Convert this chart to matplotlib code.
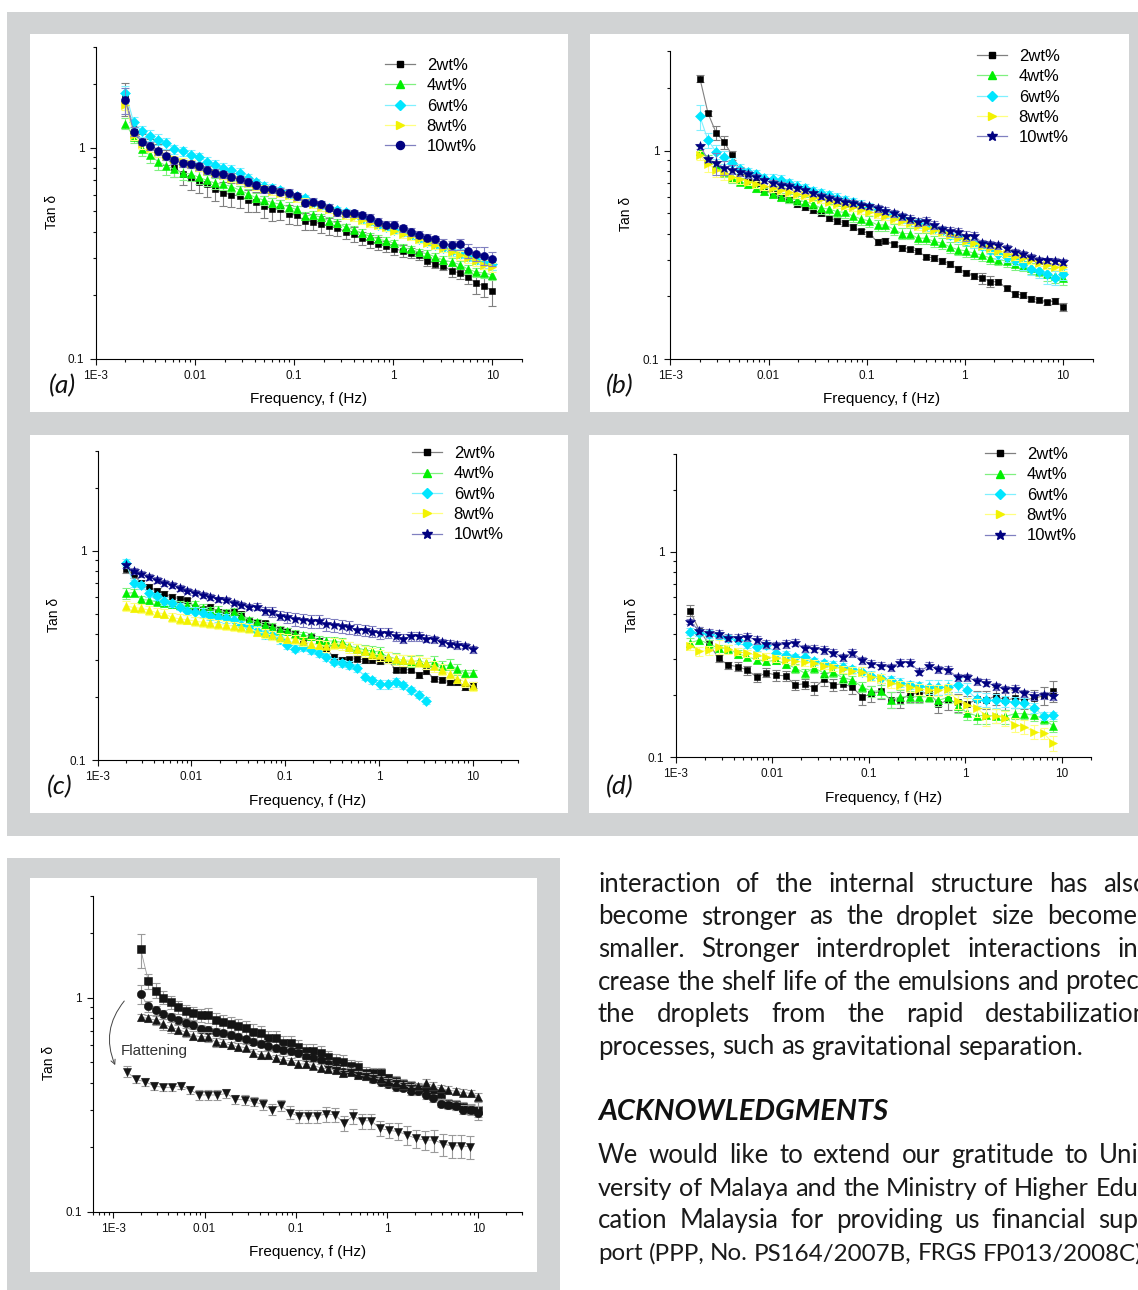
import numpy as np
import matplotlib
matplotlib.use('Agg')
import matplotlib.pyplot as plt
from matplotlib.patches import Rectangle
from matplotlib.lines import Line2D
from matplotlib.ticker import LogLocator, FuncFormatter, NullFormatter

plt.rcParams['font.family'] = ['Liberation Sans', 'DejaVu Sans']

W, H = 1138, 1290
GRAY = '#d1d3d4'

# measurement frequencies (Hz)
freq46 = [0.00200, 0.00242, 0.00292, 0.00353, 0.00427, 0.00516, 0.00623, 0.00752, 0.00909, 0.0110,
          0.0133, 0.0160, 0.0194, 0.0234, 0.0283, 0.0342, 0.0413, 0.0499, 0.0603, 0.0729,
          0.0881, 0.106, 0.129, 0.155, 0.188, 0.227, 0.274, 0.331, 0.400, 0.484,
          0.585, 0.706, 0.853, 1.03, 1.25, 1.51, 1.82, 2.20, 2.66, 3.21,
          3.88, 4.69, 5.67, 6.85, 8.28, 10.0]
freq39 = [0.00141, 0.00177, 0.00223, 0.00280, 0.00352, 0.00442, 0.00555, 0.00697, 0.00875, 0.0110,
          0.0138, 0.0173, 0.0218, 0.0274, 0.0344, 0.0432, 0.0542, 0.0681, 0.0855, 0.107,
          0.135, 0.169, 0.213, 0.267, 0.336, 0.422, 0.530, 0.665, 0.836, 1.05,
          1.32, 1.66, 2.08, 2.61, 3.28, 4.12, 5.18, 6.50, 8.17]

labels = ['2wt%', '4wt%', '6wt%', '8wt%', '10wt%']

# panel (a): tan delta
a_2 = [1.72, 1.22, 1.09, 1.04, 0.97, 0.90, 0.81, 0.75, 0.72, 0.69,
       0.67, 0.64, 0.61, 0.60, 0.59, 0.565, 0.556, 0.53, 0.514, 0.51,
       0.485, 0.48, 0.45, 0.447, 0.435, 0.425, 0.416, 0.401, 0.39, 0.373,
       0.36, 0.352, 0.342, 0.332, 0.325, 0.318, 0.309, 0.291, 0.283, 0.277,
       0.26, 0.256, 0.245, 0.228, 0.222, 0.209]
a_4 = [1.30, 1.12, 0.99, 0.92, 0.86, 0.82, 0.79, 0.76, 0.75, 0.725,
       0.70, 0.68, 0.67, 0.655, 0.63, 0.605, 0.58, 0.565, 0.55, 0.54,
       0.525, 0.51, 0.475, 0.48, 0.468, 0.45, 0.44, 0.42, 0.41, 0.395,
       0.38, 0.37, 0.362, 0.353, 0.337, 0.33, 0.32, 0.315, 0.304, 0.294,
       0.288, 0.28, 0.266, 0.258, 0.255, 0.25]
a_6 = [1.82, 1.32, 1.20, 1.14, 1.09, 1.05, 0.985, 0.96, 0.925, 0.90,
       0.86, 0.83, 0.805, 0.785, 0.76, 0.72, 0.685, 0.66, 0.645, 0.63,
       0.605, 0.59, 0.575, 0.55, 0.535, 0.52, 0.505, 0.495, 0.485, 0.46,
       0.448, 0.432, 0.42, 0.41, 0.398, 0.385, 0.37, 0.358, 0.347, 0.335,
       0.325, 0.315, 0.305, 0.295, 0.288, 0.282]
a_8 = [1.60, 1.15, 1.04, 1.0, 0.95, 0.91, 0.88, 0.86, 0.84, 0.81,
       0.78, 0.76, 0.74, 0.72, 0.70, 0.68, 0.66, 0.64, 0.625, 0.61,
       0.595, 0.575, 0.555, 0.54, 0.525, 0.51, 0.495, 0.48, 0.47, 0.455,
       0.44, 0.43, 0.42, 0.405, 0.39, 0.38, 0.37, 0.355, 0.345, 0.335,
       0.32, 0.31, 0.30, 0.29, 0.28, 0.272]
a_10 = [1.68, 1.19, 1.07, 1.02, 0.96, 0.91, 0.87, 0.845, 0.835, 0.815,
        0.785, 0.76, 0.75, 0.73, 0.71, 0.69, 0.665, 0.635, 0.635, 0.62,
        0.61, 0.59, 0.55, 0.555, 0.54, 0.52, 0.495, 0.49, 0.49, 0.478,
        0.465, 0.445, 0.432, 0.432, 0.415, 0.40, 0.388, 0.375, 0.368, 0.352,
        0.345, 0.35, 0.325, 0.315, 0.308, 0.298]
# error bars, percent of value
e_a2 = [18, 8, 6, 6, 7, 8, 10, 11, 12, 12, 13, 13, 13, 13, 12, 12, 11, 12, 12, 11,
        10, 10, 9, 9, 9, 9, 8, 8, 8, 7, 7, 7, 6, 6, 6, 5, 5, 5, 5, 5, 6, 7, 8, 11, 11, 15]
e_a4 = [6, 6, 8, 8, 9, 9, 8, 7, 7, 7, 6, 6, 6, 6, 5, 5, 5, 5, 5, 5,
        5, 4, 4, 4, 4, 4, 4, 4, 4, 4, 4, 4, 4, 4, 4, 4, 4, 4, 4, 4, 4, 4, 5, 5, 5, 5]
e_a6 = [8, 6, 6, 6, 6, 6, 5, 5, 5, 5, 5, 5, 5, 5, 5, 4, 4, 4, 4, 4,
        4, 4, 4, 4, 4, 4, 4, 4, 4, 4, 4, 4, 4, 4, 4, 4, 4, 4, 4, 4, 5, 5, 5, 5, 6, 6]
e_a8 = [6, 5, 5, 5, 5, 4, 4, 4, 4, 4, 4, 4, 4, 4, 4, 4, 4, 4, 4, 4,
        4, 4, 4, 4, 4, 4, 4, 4, 4, 4, 4, 4, 4, 4, 4, 4, 4, 4, 4, 4, 5, 5, 5, 5, 5, 5]
e_a10 = [14, 5, 4, 4, 4, 4, 4, 4, 4, 4, 4, 4, 4, 4, 4, 4, 4, 4, 4, 4,
         4, 4, 4, 4, 4, 4, 4, 4, 4, 4, 4, 4, 4, 4, 4, 4, 4, 4, 4, 5, 5, 6, 8, 8, 10, 8]

# panel (b)
b_2 = [2.22, 1.51, 1.22, 1.10, 0.95, 0.80, 0.74, 0.70, 0.655, 0.62,
       0.595, 0.58, 0.555, 0.535, 0.52, 0.50, 0.475, 0.46, 0.45, 0.43,
       0.41, 0.40, 0.365, 0.37, 0.355, 0.342, 0.336, 0.33, 0.31, 0.305,
       0.295, 0.286, 0.27, 0.26, 0.25, 0.245, 0.235, 0.235, 0.218, 0.205,
       0.203, 0.195, 0.193, 0.187, 0.19, 0.178]
b_4 = [1.0, 0.91, 0.85, 0.79, 0.74, 0.71, 0.69, 0.66, 0.64, 0.62,
       0.60, 0.59, 0.58, 0.57, 0.555, 0.53, 0.525, 0.51, 0.505, 0.485,
       0.47, 0.46, 0.44, 0.44, 0.42, 0.40, 0.40, 0.38, 0.38, 0.367,
       0.36, 0.345, 0.335, 0.33, 0.322, 0.315, 0.305, 0.30, 0.295, 0.285,
       0.28, 0.272, 0.265, 0.255, 0.25, 0.244]
b_6 = [1.46, 1.12, 0.99, 0.93, 0.87, 0.82, 0.79, 0.77, 0.74, 0.73,
       0.72, 0.70, 0.68, 0.66, 0.64, 0.625, 0.61, 0.595, 0.58, 0.565,
       0.55, 0.535, 0.52, 0.50, 0.49, 0.475, 0.46, 0.45, 0.435, 0.42,
       0.41, 0.395, 0.385, 0.37, 0.36, 0.35, 0.335, 0.32, 0.31, 0.30,
       0.285, 0.27, 0.265, 0.255, 0.245, 0.255]
b_8 = [0.95, 0.86, 0.81, 0.78, 0.75, 0.73, 0.71, 0.69, 0.675, 0.66,
       0.645, 0.63, 0.62, 0.61, 0.595, 0.585, 0.57, 0.555, 0.545, 0.535,
       0.52, 0.51, 0.495, 0.485, 0.47, 0.46, 0.45, 0.435, 0.425, 0.415,
       0.405, 0.395, 0.383, 0.37, 0.36, 0.35, 0.34, 0.33, 0.32, 0.31,
       0.305, 0.298, 0.29, 0.283, 0.278, 0.275]
b_10 = [1.05, 0.91, 0.87, 0.83, 0.81, 0.79, 0.77, 0.75, 0.72, 0.70,
        0.685, 0.68, 0.66, 0.645, 0.625, 0.605, 0.595, 0.58, 0.57, 0.56,
        0.55, 0.54, 0.53, 0.515, 0.50, 0.485, 0.47, 0.455, 0.46, 0.44,
        0.42, 0.41, 0.405, 0.39, 0.39, 0.36, 0.355, 0.352, 0.34, 0.327,
        0.32, 0.31, 0.30, 0.298, 0.295, 0.293]
e_b2 = [4, 3, 8, 7, 5, 4, 3, 3, 3, 3, 3, 3, 3, 3, 3, 3, 3, 3, 3, 3,
        3, 3, 3, 3, 3, 3, 3, 3, 3, 3, 3, 3, 3, 3, 3, 6, 6, 3, 3, 3, 3, 3, 3, 3, 3, 4]
e_b4 = [5, 5, 5, 5, 5, 4, 4, 4, 4, 4, 4, 5, 5, 5, 5, 6, 6, 6, 6, 6,
        6, 6, 6, 6, 6, 6, 6, 6, 6, 6, 6, 6, 6, 6, 6, 6, 6, 6, 6, 6, 6, 6, 6, 7, 7, 7]
e_b6 = [14, 8, 8, 7, 6, 5, 5, 5, 5, 6, 6, 5, 5, 5, 5, 5, 5, 5, 5, 5,
        5, 5, 5, 5, 5, 5, 5, 5, 5, 5, 5, 5, 5, 5, 5, 5, 5, 6, 6, 6, 6, 6, 8, 10, 8, 6]
e_b8 = [5, 8, 8, 7, 6, 5, 4, 4, 4, 4, 4, 4, 4, 4, 4, 4, 4, 4, 4, 4,
        4, 4, 4, 4, 4, 4, 4, 4, 4, 4, 4, 4, 4, 4, 4, 4, 4, 4, 4, 4, 4, 4, 4, 4, 4, 4]
e_b10 = [3, 3, 12, 8, 5, 4, 4, 3, 3, 3, 3, 3, 3, 3, 3, 3, 3, 3, 3, 3,
         3, 3, 4, 4, 4, 4, 4, 4, 4, 4, 4, 5, 5, 5, 4, 4, 4, 4, 4, 3, 3, 3, 3, 3, 3, 3]

# panel (c)
c_2 = [0.82, 0.77, 0.70, 0.67, 0.645, 0.62, 0.60, 0.59, 0.58, 0.535,
       0.525, 0.54, 0.51, 0.505, 0.515, 0.50, 0.46, 0.455, 0.45, 0.43,
       0.42, 0.415, 0.40, 0.375, 0.385, 0.37, 0.34, 0.31, 0.30, 0.303,
       0.305, 0.30, 0.30, 0.297, 0.30, 0.27, 0.27, 0.27, 0.255, 0.265,
       0.245, 0.242, 0.236, 0.235, 0.222, 0.228]
c_4 = [0.625, 0.63, 0.585, 0.58, 0.57, 0.565, 0.555, 0.55, 0.548, 0.555,
       0.535, 0.52, 0.522, 0.505, 0.51, 0.49, 0.465, 0.455, 0.44, 0.432,
       0.42, 0.412, 0.40, 0.395, 0.39, 0.375, 0.37, 0.37, 0.365, 0.35,
       0.343, 0.336, 0.332, 0.327, 0.31, 0.305, 0.30, 0.295, 0.298, 0.29,
       0.295, 0.28, 0.285, 0.272, 0.26, 0.26]
c_6 = [0.876, 0.70, 0.685, 0.625, 0.605, 0.575, 0.56, 0.54, 0.515, 0.51,
       0.505, 0.49, 0.48, 0.475, 0.465, 0.44, 0.432, 0.415, 0.40, 0.395,
       0.378, 0.355, 0.34, 0.345, 0.335, 0.325, 0.31, 0.295, 0.29, 0.285,
       0.275, 0.25, 0.24, 0.23, 0.23, 0.235, 0.228, 0.215, 0.205, 0.192]
c_8 = [0.545, 0.535, 0.53, 0.52, 0.505, 0.50, 0.48, 0.472, 0.468, 0.46,
       0.455, 0.45, 0.445, 0.44, 0.436, 0.43, 0.425, 0.41, 0.404, 0.395,
       0.385, 0.38, 0.377, 0.37, 0.36, 0.355, 0.35, 0.36, 0.358, 0.345,
       0.338, 0.33, 0.322, 0.317, 0.31, 0.303, 0.30, 0.30, 0.295, 0.29,
       0.28, 0.27, 0.258, 0.245, 0.236, 0.225]
c_10 = [0.85, 0.80, 0.775, 0.75, 0.725, 0.70, 0.685, 0.665, 0.645, 0.63,
        0.615, 0.60, 0.585, 0.583, 0.565, 0.55, 0.54, 0.54, 0.515, 0.51,
        0.49, 0.48, 0.47, 0.465, 0.46, 0.46, 0.445, 0.44, 0.435, 0.43,
        0.42, 0.418, 0.41, 0.403, 0.405, 0.39, 0.38, 0.39, 0.39, 0.38,
        0.378, 0.365, 0.36, 0.355, 0.352, 0.338]
e_c2 = [5, 4, 4, 3, 3, 3, 3, 3, 3, 3, 3, 3, 3, 3, 3, 3, 3, 3, 3, 3,
        3, 3, 3, 3, 3, 3, 3, 3, 3, 3, 3, 3, 3, 3, 3, 3, 3, 3, 3, 3, 3, 3, 3, 3, 3, 3]
e_c4 = [6, 4, 4, 4, 4, 4, 4, 4, 4, 4, 4, 4, 4, 4, 4, 4, 4, 4, 4, 4,
        4, 4, 4, 4, 4, 4, 5, 5, 5, 5, 5, 6, 6, 6, 6, 6, 6, 6, 6, 6, 6, 6, 6, 6, 4, 4]
e_c6 = [4, 4, 4, 4, 4, 4, 4, 4, 4, 5, 5, 5, 5, 5, 5, 5, 5, 5, 5, 5,
        5, 4, 4, 4, 4, 4, 4, 4, 4, 4, 4, 4, 4, 5, 5, 5, 4, 4, 4, 4]
e_c8 = [5, 5, 5, 5, 5, 5, 5, 5, 5, 5, 5, 5, 5, 5, 5, 5, 5, 5, 5, 5,
        5, 5, 5, 5, 5, 5, 6, 6, 6, 6, 6, 6, 6, 6, 6, 6, 6, 6, 6, 6, 6, 6, 6, 5, 5, 5]
e_c10 = [3, 3, 3, 3, 3, 3, 3, 3, 3, 3, 3, 3, 3, 3, 3, 3, 3, 4, 4, 5,
         5, 6, 7, 7, 7, 7, 7, 7, 7, 7, 6, 6, 6, 6, 5, 5, 5, 5, 5, 4, 4, 4, 4, 4, 3, 4]

# panel (d)
d_2 = [0.517, 0.413, 0.356, 0.303, 0.281, 0.276, 0.266, 0.245, 0.258, 0.251,
       0.249, 0.225, 0.228, 0.217, 0.24, 0.225, 0.228, 0.219, 0.197, 0.203,
       0.21, 0.19, 0.19, 0.203, 0.205, 0.206, 0.182, 0.189, 0.185, 0.181,
       0.192, 0.19, 0.199, 0.189, 0.194, 0.19, 0.194, 0.199, 0.21]
d_4 = [0.361, 0.372, 0.356, 0.339, 0.338, 0.318, 0.309, 0.298, 0.293, 0.296,
       0.285, 0.272, 0.257, 0.272, 0.257, 0.259, 0.243, 0.238, 0.22, 0.21,
       0.21, 0.19, 0.197, 0.197, 0.197, 0.197, 0.189, 0.196, 0.177, 0.165,
       0.159, 0.16, 0.159, 0.158, 0.163, 0.163, 0.16, 0.154, 0.142]
d_6 = [0.408, 0.403, 0.398, 0.39, 0.379, 0.372, 0.356, 0.343, 0.35, 0.322,
       0.316, 0.307, 0.309, 0.293, 0.287, 0.282, 0.276, 0.268, 0.261, 0.249,
       0.243, 0.238, 0.231, 0.225, 0.222, 0.22, 0.219, 0.22, 0.225, 0.212,
       0.192, 0.19, 0.189, 0.187, 0.185, 0.184, 0.174, 0.159, 0.16]
d_8 = [0.348, 0.328, 0.331, 0.345, 0.336, 0.326, 0.32, 0.314, 0.309, 0.304,
       0.298, 0.293, 0.29, 0.287, 0.279, 0.274, 0.268, 0.264, 0.261, 0.247,
       0.243, 0.229, 0.225, 0.22, 0.214, 0.212, 0.212, 0.214, 0.187, 0.18,
       0.174, 0.158, 0.159, 0.155, 0.144, 0.141, 0.133, 0.131, 0.117]
d_10 = [0.457, 0.413, 0.403, 0.398, 0.382, 0.382, 0.385, 0.372, 0.356, 0.35,
        0.356, 0.361, 0.339, 0.338, 0.333, 0.323, 0.307, 0.322, 0.296, 0.285,
        0.279, 0.274, 0.289, 0.289, 0.261, 0.279, 0.268, 0.266, 0.245, 0.245,
        0.235, 0.231, 0.222, 0.214, 0.216, 0.205, 0.199, 0.2, 0.199]
e_d2 = [6, 4, 4, 4, 4, 5, 5, 5, 5, 6, 6, 6, 6, 7, 7, 7, 7, 7, 9, 9,
        9, 9, 9, 9, 9, 9, 10, 10, 10, 10, 10, 10, 10, 10, 10, 10, 10, 10, 12]
e_d4 = [5, 4, 4, 4, 4, 4, 4, 4, 4, 4, 5, 5, 5, 5, 5, 5, 5, 5, 6, 6,
        7, 9, 8, 7, 7, 6, 6, 6, 7, 8, 9, 9, 8, 8, 6, 6, 6, 6, 6]
e_d6 = [4, 4, 4, 4, 4, 4, 4, 4, 4, 4, 4, 4, 4, 4, 4, 4, 4, 4, 5, 5,
        5, 5, 5, 5, 5, 8, 8, 8, 8, 8, 8, 8, 8, 6, 6, 6, 6, 5, 4]
e_d8 = [4, 5, 5, 8, 5, 4, 4, 4, 4, 4, 4, 4, 4, 4, 4, 4, 4, 4, 5, 5,
        5, 5, 5, 6, 6, 6, 6, 6, 8, 8, 10, 10, 8, 8, 8, 8, 8, 6, 8]
e_d10 = [3, 4, 4, 4, 4, 4, 4, 4, 4, 4, 4, 4, 4, 4, 4, 4, 4, 4, 4, 4,
         4, 4, 4, 4, 4, 4, 4, 4, 4, 4, 4, 4, 4, 4, 4, 4, 4, 4, 4]

# bottom figure (black symbols)
s_sq = [1.68, 1.20, 1.08, 1.0, 0.95, 0.90, 0.866, 0.85, 0.83, 0.83,
        0.786, 0.772, 0.753, 0.737, 0.719, 0.694, 0.681, 0.646, 0.646, 0.616,
        0.612, 0.59, 0.565, 0.565, 0.55, 0.527, 0.508, 0.503, 0.48, 0.476,
        0.446, 0.443, 0.443, 0.42, 0.41, 0.397, 0.387, 0.376, 0.366, 0.36,
        0.355, 0.32, 0.316, 0.31, 0.30, 0.30]
s_ci = [1.04, 0.91, 0.875, 0.835, 0.81, 0.785, 0.765, 0.745, 0.715, 0.706,
        0.69, 0.681, 0.67, 0.657, 0.64, 0.623, 0.61, 0.594, 0.58, 0.57,
        0.565, 0.553, 0.53, 0.52, 0.51, 0.49, 0.472, 0.45, 0.455, 0.437,
        0.431, 0.415, 0.405, 0.395, 0.383, 0.38, 0.366, 0.367, 0.35, 0.34,
        0.32, 0.316, 0.312, 0.30, 0.30, 0.29]
s_up = [0.81, 0.80, 0.785, 0.75, 0.73, 0.71, 0.69, 0.665, 0.658, 0.655,
        0.62, 0.616, 0.60, 0.59, 0.585, 0.553, 0.54, 0.54, 0.52, 0.513,
        0.505, 0.49, 0.49, 0.482, 0.47, 0.465, 0.46, 0.443, 0.45, 0.435,
        0.43, 0.423, 0.415, 0.405, 0.40, 0.39, 0.38, 0.385, 0.40, 0.387,
        0.377, 0.37, 0.365, 0.36, 0.357, 0.345]
s_dn = [0.451, 0.415, 0.405, 0.387, 0.381, 0.381, 0.388, 0.37, 0.351, 0.351,
        0.351, 0.357, 0.335, 0.333, 0.327, 0.317, 0.30, 0.315, 0.29, 0.28,
        0.28, 0.28, 0.286, 0.284, 0.26, 0.28, 0.266, 0.266, 0.245, 0.24,
        0.237, 0.228, 0.22, 0.216, 0.216, 0.207, 0.203, 0.203, 0.201]
e_sq = [18, 8, 8, 7, 7, 7, 7, 7, 7, 8, 8, 8, 8, 8, 8, 8, 8, 8, 8, 8,
        8, 8, 8, 8, 8, 7, 7, 7, 7, 6, 6, 6, 6, 5, 5, 5, 5, 5, 5, 5, 5, 5, 5, 5, 6, 8]
e_ci = [10, 6, 5, 5, 5, 4, 4, 4, 4, 4, 4, 4, 4, 4, 4, 4, 4, 4, 4, 4,
        4, 4, 4, 4, 4, 4, 4, 4, 4, 4, 4, 4, 4, 4, 4, 4, 4, 4, 4, 4, 4, 4, 4, 5, 5, 8]
e_up = [4, 4, 5, 6, 6, 5, 5, 5, 5, 5, 5, 4, 4, 4, 4, 4, 4, 4, 4, 4,
        4, 4, 4, 4, 4, 4, 4, 4, 4, 4, 4, 4, 4, 4, 4, 4, 4, 4, 4, 4, 4, 4, 4, 4, 4, 4]
e_dn = [6, 4, 4, 4, 4, 4, 4, 4, 5, 5, 5, 5, 5, 5, 5, 6, 6, 6, 7, 7,
        7, 7, 8, 8, 8, 8, 8, 8, 8, 8, 9, 10, 10, 10, 12, 12, 12, 12, 12]

body_par1 = ["interaction of the internal structure has also",
             "become stronger as the droplet size becomes",
             "smaller. Stronger interdroplet interactions in-",
             "crease the shelf life of the emulsions and protect",
             "the droplets from the rapid destabilization",
             "processes, such as gravitational separation."]
body_par2 = ["We would like to extend our gratitude to Uni-",
             "versity of Malaya and the Ministry of Higher Edu-",
             "cation Malaysia for providing us financial sup-",
             "port (PPP, No. PS164/2007B, FRGS FP013/2008C)."]

# colours: marker, light (line / error bar)
BLACK = ('#000000', '#808080')
GREEN = ('#00f000', '#80f080')
CYAN = ('#00e6ff', '#80f0ff')
YELLOW = ('#f2f200', '#ffff80')
NAVY = ('#000080', '#8080c0')

fig = plt.figure(figsize=(W / 100, H / 100), dpi=100)


def frac(x, y):
    return x / W, 1 - y / H


def rect(l, t, r, b, color, z):
    fig.add_artist(Rectangle((l / W, 1 - b / H), (r - l) / W, (b - t) / H,
                             transform=fig.transFigure, facecolor=color,
                             edgecolor='none', zorder=z))


rect(7, 12, W, 835.7, GRAY, -20)
rect(7, 857.7, 560, H, GRAY, -20)
rect(30, 34, 568, 412, 'white', -19)
rect(590, 34, 1129, 412, 'white', -19)
rect(30, 435, 568, 813, 'white', -19)
rect(589, 435, 1129, 813, 'white', -19)
rect(30, 877.7, 537, 1271.7, 'white', -19)


def tick_fmt(v, pos):
    names = {-3: '1E-3', -2: '0.01', -1: '0.1', 0: '1', 1: '10'}
    return names.get(int(round(np.log10(v))), '')


def make_axes(l, t, r, b, xlim):
    ax = fig.add_axes([l / W, 1 - b / H, (r - l) / W, (b - t) / H])
    ax.set_facecolor('none')
    ax.set_xscale('log')
    ax.set_yscale('log')
    ax.set_xlim(*xlim)
    ax.set_ylim(0.1, 3)
    for axis in (ax.xaxis, ax.yaxis):
        axis.set_major_locator(LogLocator(base=10, numticks=20))
        axis.set_minor_locator(LogLocator(base=10, subs=np.arange(2, 10), numticks=20))
        axis.set_major_formatter(FuncFormatter(tick_fmt))
        axis.set_minor_formatter(NullFormatter())
    ax.spines['top'].set_visible(False)
    ax.spines['right'].set_visible(False)
    for s in ('left', 'bottom'):
        ax.spines[s].set_linewidth(0.8)
    ax.tick_params(which='both', direction='out', width=0.8, labelsize=8.5,
                   pad=3.5, colors='#111111')
    ax.tick_params(which='major', length=4.5)
    ax.tick_params(which='minor', length=2.5)
    hp, wp = b - t, r - l
    ax.set_xlabel('Frequency, f (Hz)', fontsize=11)
    ax.xaxis.set_label_coords(0.5, -40.5 / hp)
    ax.xaxis.label.set_va('center')
    ax.set_ylabel('Tan δ', fontsize=10)
    ax.yaxis.set_label_coords(-44 / wp, 0.47)
    ax.yaxis.label.set_va('center')
    return ax


def series(ax, x, y, err, marker, colors, ms, z, lw=0.8):
    c, light = colors
    x = x[:len(y)]
    y = np.array(y)
    e = y * np.array(err) / 100.0
    ax.errorbar(x, y, yerr=e, fmt='none', ecolor=light, elinewidth=0.8,
                capsize=3.2, capthick=0.8, zorder=z)
    ax.plot(x, y, '-', color=light, lw=lw, zorder=z + 0.1)
    ax.plot(x, y, ls='none', marker=marker, ms=ms, mfc=c, mec=c, mew=0.4,
            zorder=z + 0.2)


def legend(ax, specs, x, y):
    handles = [Line2D([], [], color=col[1], lw=0.9, marker=m, ms=ms,
                      mfc=col[0], mec=col[0]) for m, col, ms in specs]
    ax.legend(handles, labels, loc='upper left', bbox_to_anchor=frac(x, y),
              bbox_transform=fig.transFigure, frameon=False, fontsize=12,
              handlelength=1.8, handletextpad=0.7, labelspacing=0.32,
              borderpad=0, borderaxespad=0, numpoints=1)


def letter(s, x, y):
    fig.text(*frac(x, y), s, fontsize=19, family=['Lato', 'DejaVu Sans'],
             style='italic', ha='center', va='center', color='#111111')


cols = [BLACK, GREEN, CYAN, YELLOW, NAVY]

# (a)
ax = make_axes(95.6, 46.9, 522.3, 359.0, (1e-3, 20))
mk = [('s', 5.0), ('^', 5.8), ('D', 4.8), ('>', 5.8), ('o', 5.8)]
for i, (y, e) in enumerate(zip([a_2, a_4, a_6, a_8, a_10], [e_a2, e_a4, e_a6, e_a8, e_a10])):
    series(ax, freq46, y, e, mk[i][0], cols[i], mk[i][1], 2 + i)
legend(ax, [(m, c, s) for (m, s), c in zip(mk, cols)], 385, 58)
letter('(a)', 62, 386)

# (b)
ax = make_axes(670.4, 51.3, 1092.5, 359.0, (1e-3, 20))
mk = [('s', 5.0), ('^', 5.8), ('D', 4.8), ('>', 5.8), ('*', 7.5)]
for i, (y, e) in enumerate(zip([b_2, b_4, b_6, b_8, b_10], [e_b2, e_b4, e_b6, e_b8, e_b10])):
    series(ax, freq46, y, e, mk[i][0], cols[i], mk[i][1], 2 + i)
legend(ax, [(m, c, s) for (m, s), c in zip(mk, cols)], 977, 49)
letter('(b)', 619.6, 386)

# (c)
ax = make_axes(97.5, 450.8, 517.5, 760.0, (1e-3, 30))
mk = [('s', 5.0), ('^', 5.8), ('D', 4.8), ('^', 5.8), ('*', 7.5)]
for i, (y, e) in enumerate(zip([c_2, c_4, c_6, c_8, c_10], [e_c2, e_c4, e_c6, e_c8, e_c10])):
    series(ax, freq46, y, e, mk[i][0], cols[i], mk[i][1], 2 + i)
lmk = [('s', 5.0), ('^', 5.8), ('D', 4.8), ('>', 5.8), ('*', 7.5)]
legend(ax, [(m, c, s) for (m, s), c in zip(lmk, cols)], 412, 446)
letter('(c)', 60, 786.7)

# (d)
ax = make_axes(675.5, 453.6, 1090.7, 757.3, (1e-3, 20))
mk = [('s', 5.0), ('^', 5.8), ('D', 4.8), ('>', 5.8), ('*', 7.5)]
for i, (y, e) in enumerate(zip([d_2, d_4, d_6, d_8, d_10], [e_d2, e_d4, e_d6, e_d8, e_d10])):
    series(ax, freq39, y, e, mk[i][0], cols[i], mk[i][1], 2 + i)
legend(ax, [(m, c, s) for (m, s), c in zip(mk, cols)], 985, 447)
letter('(d)', 620, 786.7)

# bottom figure
ax = make_axes(93, 895.6, 522, 1211.7, (6e-4, 30))
BW = ('#151515', '#9a9a9a')
series(ax, freq46, s_sq, e_sq, 's', BW, 5.5, 2, lw=0.6)
series(ax, freq46, s_ci, e_ci, 'o', BW, 6.0, 3, lw=0.6)
series(ax, freq46, s_up, e_up, '^', BW, 6.2, 4, lw=0.6)
series(ax, freq39, s_dn, e_dn, 'v', BW, 6.2, 5, lw=0.6)
ax.annotate('', xy=(1.05e-3, 0.484), xytext=(1.32e-3, 0.965),
            arrowprops=dict(arrowstyle='->', connectionstyle='arc3,rad=0.3',
                            color='#444444', lw=0.7, shrinkA=0, shrinkB=0,
                            mutation_scale=8))
ax.text(1.2e-3, 0.565, 'Flattening', fontsize=11, ha='left', va='center',
        color='#333333')

# text column on the right (justified, runs past the page edge like the scan)
renderer = fig.canvas.get_renderer()
BODY = dict(family=['Lato', 'DejaVu Sans'], color='#1a1a1a')


def text_w(s, **kw):
    t = fig.text(0, 0, s, **kw)
    w = t.get_window_extent(renderer=renderer).width
    t.remove()
    return w


X0, X1 = 598, 1148
space10 = text_w('n n', fontsize=10, **BODY) - text_w('nn', fontsize=10, **BODY)


def natural(line, fs):
    words = line.split()
    return (sum(text_w(w, fontsize=fs, **BODY) for w in words)
            + space10 * fs / 10 * (len(words) - 1))


# the tightest line of the column sets the type size
fs_body = 10 * (X1 - X0) / natural(body_par1[3], 10)


def put_line(line, base, justify=True):
    words = line.split()
    fs = fs_body
    # a line that is too long at this size is set slightly smaller
    nat = natural(line, fs)
    if justify and nat > (X1 - X0):
        fs = fs * (X1 - X0) / nat
    ws = [text_w(w, fontsize=fs, **BODY) for w in words]
    sp = space10 * fs / 10
    gap = (X1 - X0 - sum(ws)) / (len(words) - 1) if justify else sp
    gap = max(gap, 0.9 * sp)
    x = X0
    for w, wd in zip(words, ws):
        fig.text(x / W, 1 - base / H, w, fontsize=fs, va='baseline', **BODY)
        x += wd + gap


base1 = [892, 924.5, 957, 989.5, 1022, 1054.5]
for i, (line, b) in enumerate(zip(body_par1, base1)):
    put_line(line, b, justify=(i < 5))

HEAD = dict(family=['Lato', 'DejaVu Sans'], weight='bold', style='italic', color='#111111')
fs_head = 10 * 291 / text_w('ACKNOWLEDGMENTS', fontsize=10, **HEAD)
fig.text(X0 / W, 1 - 1120.5 / H, 'ACKNOWLEDGMENTS', fontsize=fs_head,
         va='baseline', **HEAD)

base2 = [1163, 1195.5, 1228, 1260.5]
for line, b in zip(body_par2, base2):
    put_line(line, b)

fig.savefig('out.png', dpi=100)
